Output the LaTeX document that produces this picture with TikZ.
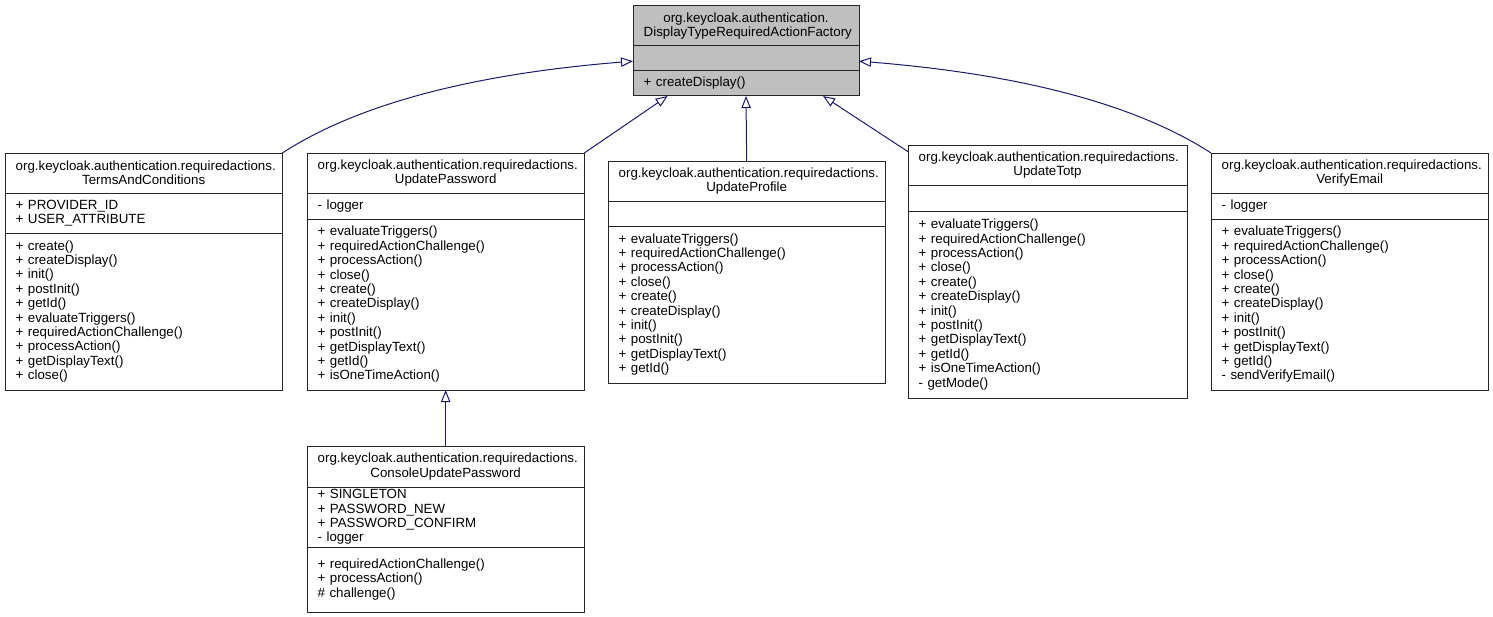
\documentclass[tikz,border=0pt]{standalone}
\usepackage{fontspec}
\setmainfont{Liberation Sans}
\usepackage{tikz}
\usetikzlibrary{positioning, arrows.meta}
\definecolor{edgeblue}{HTML}{191970}
\definecolor{basegray}{HTML}{BFBFBF}
\tikzstyle{line} = [draw, edgeblue, line width=0.75pt, -{Triangle[open, length=9pt, width=7pt]}]
\tikzstyle{part} = [rectangle, draw=black!85, line width=0.75pt, outer sep=0pt, inner xsep=8pt, inner ysep=1pt, text width=192pt, align=left, font=\fontsize{10}{10.8}\selectfont]
\tikzstyle{title} = [part, align=center, minimum height=30pt]
\tikzstyle{base} = [fill=basegray, text width=153.5pt]

\begin{document}
\begin{tikzpicture}[x=0.75pt, y=-0.75pt]
		\useasboundingbox (0,0) rectangle (1493,617);
		% base class
		\node [title, base, anchor=north west] (base_t) at (633,6) {org.keycloak.authentication.\\DisplayTypeRequiredActionFactory};
		\node [part, base, below=0pt of base_t, minimum height=18.75pt] (base_a) {};
		\node [part, base, below=0pt of base_a, minimum height=18.75pt] (base_m) {+ createDisplay()};
		
		% TermsAndConditions
		\node [title, anchor=north west] (tac_t) at (5,153) {org.keycloak.authentication.requiredactions.\\TermsAndConditions};
		\node [part, below=0pt of tac_t, minimum height=30pt] (tac_a) {+ PROVIDER\_ID\\+ USER\_ATTRIBUTE};
		\node [part, below=0pt of tac_a, minimum height=117.75pt] (tac_m) {+ create()\\+ createDisplay()\\+ init()\\+ postInit()\\+ getId()\\+ evaluateTriggers()\\+ requiredActionChallenge()\\+ processAction()\\+ getDisplayText()\\+ close()};
		
		% UpdatePassword
		\node [title, anchor=north west] (upw_t) at (307,153) {org.keycloak.authentication.requiredactions.\\UpdatePassword};
		\node [part, below=0pt of upw_t, minimum height=19.5pt] (upw_a) {- logger};
		\node [part, below=0pt of upw_a, minimum height=128.25pt] (upw_m) {+ evaluateTriggers()\\+ requiredActionChallenge()\\+ processAction()\\+ close()\\+ create()\\+ createDisplay()\\+ init()\\+ postInit()\\+ getDisplayText()\\+ getId()\\+ isOneTimeAction()};
		
		% UpdateProfile
		\node [title, anchor=north west] (upr_t) at (608,161) {org.keycloak.authentication.requiredactions.\\UpdateProfile};
		\node [part, below=0pt of upr_t, minimum height=18.75pt] (upr_a) {};
		\node [part, below=0pt of upr_a, minimum height=117.75pt] (upr_m) {+ evaluateTriggers()\\+ requiredActionChallenge()\\+ processAction()\\+ close()\\+ create()\\+ createDisplay()\\+ init()\\+ postInit()\\+ getDisplayText()\\+ getId()};
		
		% UpdateTotp
		\node [title, anchor=north west, text width=193.25pt] (totp_t) at (908,145) {org.keycloak.authentication.requiredactions.\\UpdateTotp};
		\node [part, below=0pt of totp_t, text width=193.25pt, minimum height=19.5pt] (totp_a) {};
		\node [part, below=0pt of totp_a, text width=193.25pt, minimum height=140.25pt] (totp_m) {+ evaluateTriggers()\\+ requiredActionChallenge()\\+ processAction()\\+ close()\\+ create()\\+ createDisplay()\\+ init()\\+ postInit()\\+ getDisplayText()\\+ getId()\\+ isOneTimeAction()\\- getMode()};
		
		% VerifyEmail
		\node [title, anchor=north west] (vem_t) at (1211,153) {org.keycloak.authentication.requiredactions.\\VerifyEmail};
		\node [part, below=0pt of vem_t, minimum height=19.5pt] (vem_a) {- logger};
		\node [part, below=0pt of vem_a, minimum height=128.25pt] (vem_m) {+ evaluateTriggers()\\+ requiredActionChallenge()\\+ processAction()\\+ close()\\+ create()\\+ createDisplay()\\+ init()\\+ postInit()\\+ getDisplayText()\\+ getId()\\- sendVerifyEmail()};
		
		% ConsoleUpdatePassword
		\node [title, anchor=north west, minimum height=30.75pt] (cup_t) at (307,446) {org.keycloak.authentication.requiredactions.\\ConsoleUpdatePassword};
		\node [part, below=0pt of cup_t, minimum height=45pt] (cup_a) {+ SINGLETON\\+ PASSWORD\_NEW\\+ PASSWORD\_CONFIRM\\- logger};
		\node [part, below=0pt of cup_a, minimum height=48.75pt] (cup_m) {+ requiredActionChallenge()\\+ processAction()\\\# challenge()};
		
		\path [line] (tac_t.north east) .. controls +(80,-52) and +(-150,12) .. ([yshift=-2pt]base_a.west);
		\path [line] (upw_t.north east) to ([xshift=26pt]base_m.south west);
		\path [line] (upr_t.north) to (base_m.south);
		\path [line] ([yshift=-5pt]totp_t.north west) to ([xshift=-27pt]base_m.south east);
		\path [line] (vem_t.north west) .. controls +(-80,-52) and +(150,12) .. ([yshift=-2pt]base_a.east);
		\path [line] (cup_t.north) to (upw_m.south);
		
	\end{tikzpicture}
\end{document}
